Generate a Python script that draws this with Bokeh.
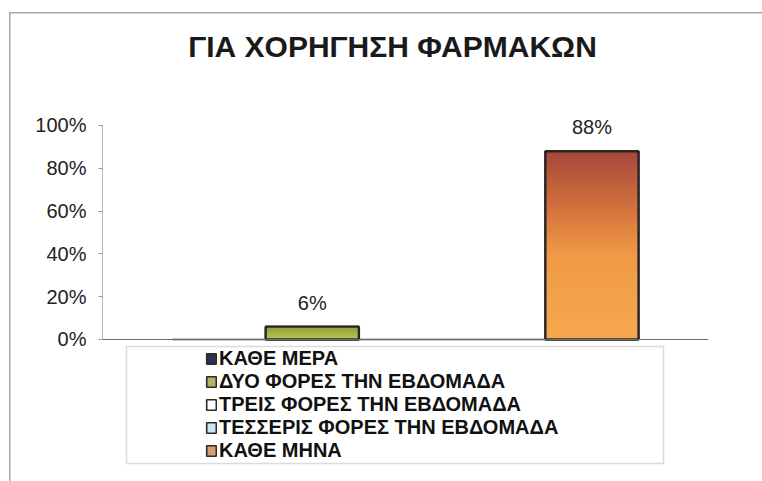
from bokeh.plotting import figure
from bokeh.models import (FactorRange, Range1d, FixedTicker, NumeralTickFormatter,
                          Legend, LegendItem, LabelSet, Label, BoxAnnotation, ColumnDataSource, Span)
from bokeh.core.properties import value
from bokeh.embed import file_html
from bokeh.resources import INLINE

# ---------------- data ----------------
title_text = "ΓΙΑ ΧΟΡΗΓΗΣΗ ΦΑΡΜΑΚΩΝ"
series = ["ΚΑΘΕ ΜΕΡΑ", "ΔΥΟ ΦΟΡΕΣ ΤΗΝ ΕΒΔΟΜΑΔΑ", "ΤΡΕΙΣ ΦΟΡΕΣ ΤΗΝ ΕΒΔΟΜΑΔΑ",
          "ΤΕΣΣΕΡΙΣ ΦΟΡΕΣ ΤΗΝ ΕΒΔΟΜΑΔΑ", "ΚΑΘΕ ΜΗΝΑ"]
values = [0.0, 0.06, 0.0, 0.0, 0.88]
y_ticks = [0, 0.2, 0.4, 0.6, 0.8, 1.0]

# ---------------- styles ----------------
FONT = "Liberation Sans"
legend_colors = ["#2b3350", "#b3b365", "#ffffff", "#cde2f2", "#d39f72"]
grad_stops = [
    [(0.0, "#2b3350"), (1.0, "#3a4466")],
    [(0.0, "#bcc65c"), (0.5, "#aab64a"), (1.0, "#95a23a")],
    [(0.0, "#ffffff"), (1.0, "#ffffff")],
    [(0.0, "#cde2f2"), (1.0, "#cde2f2")],
    [(0.0, "#f6a84e"), (0.45, "#f09a47"), (0.68, "#d6753e"), (1.0, "#a5473a")],
]


def hex2rgb(h):
    h = h.lstrip("#")
    return tuple(int(h[i:i + 2], 16) for i in (0, 2, 4))


def interp(stops, f):
    for (f0, c0), (f1, c1) in zip(stops[:-1], stops[1:]):
        if f0 <= f <= f1:
            t = 0 if f1 == f0 else (f - f0) / (f1 - f0)
            a, b = hex2rgb(c0), hex2rgb(c1)
            r = [round(a[i] + (b[i] - a[i]) * t) for i in range(3)]
            return "#%02x%02x%02x" % tuple(r)
    return stops[-1][1]


BORDER = "#a8a8a8"
p = figure(width=762, height=481,
           x_range=FactorRange(factors=series, range_padding=0.75, range_padding_units="absolute"),
           y_range=Range1d(-0.6355, 1.528),
           output_backend="svg", toolbar_location=None,
           min_border_left=102, min_border_right=54, min_border_top=12, min_border_bottom=6)
p.outline_line_color = None
p.xgrid.visible = False
p.ygrid.visible = False
p.background_fill_color = None
p.border_fill_color = None
p.styles = {"background": (f"linear-gradient({BORDER},{BORDER}) 9px 12px / 1.5px 480px no-repeat, "
                           f"linear-gradient({BORDER},{BORDER}) 9px 12px / 760px 1.5px no-repeat, "
                           "#ffffff")}

# per-series bars with solid colours (also used by the legend)
legend_rs = []
for name, v, c in zip(series, values, legend_colors):
    r = p.vbar(x=[name], top=[v], width=1.0, fill_color=c, line_color="#2a2a2a", line_width=1.6)
    legend_rs.append(r)

# gradient fill over the bars
N = 60
gx, gb, gt, gc = [], [], [], []
for name, v, stops in zip(series, values, grad_stops):
    if v <= 0:
        continue
    for k in range(N):
        f0, f1 = k / N, (k + 1) / N
        gx.append(name)
        gb.append(v * f0)
        gt.append(v * f1)
        gc.append(interp(stops, (f0 + f1) / 2))
gsrc = ColumnDataSource(dict(x=gx, bottom=gb, top=gt, color=gc))
p.vbar(x="x", bottom="bottom", top="top", width=1.0, fill_color="color",
       line_color="color", line_width=1.0, source=gsrc)

# x axis line at zero
p.add_layout(Span(location=0, dimension="width", line_color="#6e6e6e", line_width=1.2))

# bar outlines
nz = [(s, v) for s, v in zip(series, values) if v > 0]
osrc = ColumnDataSource(dict(x=[s for s, _ in nz], top=[v for _, v in nz],
                             label=["%d%%" % round(v * 100) for _, v in nz]))
p.vbar(x="x", top="top", width=1.0, fill_color=None, line_color="#262626",
       line_width=2.4, source=osrc)

# data labels
p.add_layout(LabelSet(x="x", y="top", text="label", source=osrc, y_offset=24,
                      text_align="center", text_baseline="middle",
                      text_font=value(FONT), text_font_size="20px", text_color="#222222"))

# axes
p.xaxis.visible = False
p.yaxis.bounds = (0, 1)
p.yaxis.ticker = FixedTicker(ticks=y_ticks)
p.yaxis.formatter = NumeralTickFormatter(format="0%")
p.yaxis.minor_tick_line_color = None
p.yaxis.major_tick_in = 0
p.yaxis.major_tick_out = 4
p.yaxis.major_tick_line_color = "#9a9a9a"
p.yaxis.axis_line_color = "#b8b8b8"
p.yaxis.major_label_standoff = 12
p.yaxis.major_label_text_font = FONT
p.yaxis.major_label_text_font_size = "20px"
p.yaxis.major_label_text_color = "#222222"

# title
p.add_layout(Label(x=290, y=1.369, x_units="screen", text=title_text,
                   text_align="center", text_baseline="middle", text_font=FONT,
                   text_font_size="30px", text_font_style="bold", text_color="#1a1a1a"))

# legend box
p.add_layout(BoxAnnotation(left=24, right=561, top=-0.0327, bottom=-0.579,
                           left_units="screen", right_units="screen",
                           fill_color="white", fill_alpha=1,
                           line_color="#8c8c8c", line_width=1.5))

legend = Legend(items=[LegendItem(label=s, renderers=[r]) for s, r in zip(series, legend_rs)],
                location=(103, 13), orientation="vertical",
                border_line_color=None, background_fill_alpha=0,
                padding=0, spacing=0, margin=0,
                glyph_width=12, glyph_height=13, label_standoff=2,
                label_text_font=FONT, label_text_font_size="20px", label_text_font_style="bold",
                label_text_line_height=1.0,
                label_height=21, label_text_color="#111111")
p.add_layout(legend, "center")

open("out.html", "w").write(file_html(p, INLINE))
